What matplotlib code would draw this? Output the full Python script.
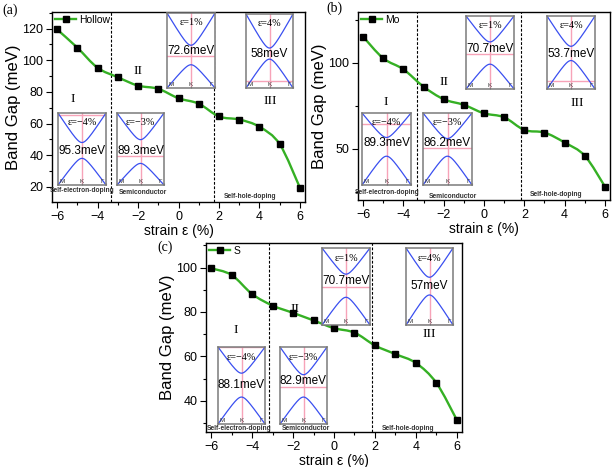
import numpy as np
import matplotlib
matplotlib.use("Agg")
import matplotlib.pyplot as plt
from matplotlib.path import Path
from matplotlib.patches import PathPatch
from matplotlib.lines import Line2D
from matplotlib.ticker import MultipleLocator, AutoMinorLocator

plt.rcParams['font.family'] = ['Liberation Sans', 'DejaVu Sans']
SERIF = ['Liberation Serif', 'DejaVu Serif']

W, H = 614, 467

# ========== data ==========
strain = [-6, -5, -4, -3, -2, -1, 0, 1, 2, 3, 4, 5, 6]
gap_hollow = [119.5, 108, 95.3, 89.3, 84, 82, 76, 72.6, 64.5, 62.6, 58, 47, 19.5]
gap_mo = [115.3, 102.7, 96.3, 86.2, 78.9, 75.6, 70.7, 68.4, 61, 59.5, 53.7, 46, 28.1]
gap_s = [99.7, 96.7, 88.1, 82.9, 79.6, 76.2, 72.7, 70.7, 64.9, 61, 57, 48, 31.3]

region_edges_a = [-3.35, 1.75]
region_edges_b = [-3.33, 1.82]
region_edges_c = [-3.18, 1.86]

inset_labels = ['ε=−4%', 'ε=−3%', 'ε=1%', 'ε=4%']
inset_gap_a = ['95.3meV', '89.3meV', '72.6meV', '58meV']
inset_gap_b = ['89.3meV', '86.2meV', '70.7meV', '53.7meV']
inset_gap_c = ['88.1meV', '82.9meV', '70.7meV', '57meV']

# band edges / Fermi level in the inset (fraction of inset height)
cb_min_a = [0.59, 0.63, 0.57, 0.54]
vb_max_a = [0.37, 0.30, 0.31, 0.39]
fermi_a = [0.97, 0.40, 0.43, 0.10]
cb_min_b = [0.66, 0.645, 0.645, 0.585]
vb_max_b = [0.40, 0.40, 0.34, 0.39]
fermi_b = [0.85, 0.52, 0.48, 0.115]
cb_min_c = [0.66, 0.64, 0.66, 0.62]
vb_max_c = [0.35, 0.35, 0.36, 0.39]
fermi_c = [1.0, 0.48, 0.50, 0.0]

GREEN = '#35b024'
BLUE = '#3a4ff0'
PINK = '#f7a3b8'


def fig_box(x0, x1, yt, yb):
    return [x0 / W, 1 - yb / H, (x1 - x0) / W, (yb - yt) / H]


def fig_text(x, y, s, **kw):
    fig.text(x / W, 1 - y / H, s, **kw)


def smooth_path(xs, ys):
    # Catmull-Rom through the points, drawn as cubic Bezier segments
    pts = np.column_stack([xs, ys]).astype(float)
    p = np.vstack([pts[0], pts, pts[-1]])
    verts = [pts[0]]
    codes = [Path.MOVETO]
    for i in range(1, len(p) - 2):
        c1 = p[i] + (p[i + 1] - p[i - 1]) / 6
        c2 = p[i + 1] - (p[i + 2] - p[i]) / 6
        verts += [c1, c2, p[i + 1]]
        codes += [Path.CURVE4] * 3
    return Path(verts, codes)


def main_panel(box, gaps, name, edges, ylim, ymajor):
    ax = fig.add_axes(fig_box(*box))
    ax.add_patch(PathPatch(smooth_path(strain, gaps), fc='none', ec=GREEN, lw=1.7, zorder=2))
    ax.plot(strain, gaps, 's', color='k', ms=4.3, zorder=3)
    for e in edges:
        ax.axvline(e, color='k', ls=(0, (2.5, 1.5)), lw=0.8, zorder=1)
    ax.set_xlim(-6.25, 6.25)
    ax.set_ylim(*ylim)
    ax.xaxis.set_major_locator(MultipleLocator(2))
    ax.xaxis.set_minor_locator(MultipleLocator(1))
    ax.yaxis.set_major_locator(MultipleLocator(ymajor))
    ax.yaxis.set_minor_locator(AutoMinorLocator(2))
    ax.tick_params(which='both', direction='out', labelsize=9, width=0.8, pad=2.2)
    ax.tick_params(which='major', length=4)
    ax.tick_params(which='minor', length=2.2)
    for sp in ax.spines.values():
        sp.set_linewidth(1.0)
    ax.set_xlabel('strain ε (%)', fontsize=10, labelpad=1)
    ax.set_ylabel('Band Gap (meV)', fontsize=12, labelpad=1)
    h = Line2D([], [], color=GREEN, lw=1.7, marker='s', mfc='k', mec='k', ms=4.3)
    ax.legend([h], [name], loc='upper left', frameon=False, fontsize=7.5,
              handlelength=2.0, handletextpad=0.3, borderaxespad=0.1, borderpad=0.2)
    return ax


def band_inset(box, label, value, cb, vb, ef, ty):
    ax = fig.add_axes(fig_box(*box))
    ax.set_facecolor('white')
    k = np.linspace(-1, 1, 201)
    w = 0.22
    shape = (np.sqrt(w ** 2 + k ** 2) - w) / (np.sqrt(w ** 2 + 1) - w)
    ax.axvline(0, color=PINK, lw=1.0, zorder=1)
    ax.axhline(ef, color=PINK, lw=1.0, zorder=1)
    ax.plot(k, cb + (1 - cb) * shape, color=BLUE, lw=0.9, zorder=2)
    ax.plot(k, vb - vb * shape, color=BLUE, lw=0.9, zorder=2)
    ax.set_xlim(-1, 1)
    ax.set_ylim(0, 1)
    ax.set_yticks([])
    ax.set_xticks([-1, 0, 1])
    ax.set_xticklabels([])
    ax.tick_params(axis='x', direction='in', length=1.5, color='#777777')
    # high-symmetry point labels sit inside the frame, on the bottom edge
    for kx, s, ha in [(-0.93, 'M', 'left'), (0, 'K', 'center'), (0.93, 'Γ', 'right')]:
        ax.text(kx, 0.015, s, ha=ha, va='bottom', fontsize=4.5, color='#333333', zorder=3)
    for sp in ax.spines.values():
        sp.set_color('#7a7a7a')
        sp.set_linewidth(1.1)
    ax.text(0, 0.87, label, ha='center', va='center', fontsize=7.3, family=SERIF, zorder=3)
    ax.text(0, ty, value, ha='center', va='center', fontsize=8.5, zorder=3)


fig = plt.figure(figsize=(W / 100, H / 100), dpi=100)

# ========== (a) Hollow ==========
main_panel((52, 305, 12, 202), gap_hollow, 'Hollow', region_edges_a, (10.5, 130.5), 20)
boxes_a = [(58, 106, 113, 185), (117, 164, 113, 185), (167, 215, 13, 88), (246, 293, 14, 88)]
text_y_a = [0.47, 0.47, 0.49, 0.46]
for i in range(4):
    band_inset(boxes_a[i], inset_labels[i], inset_gap_a[i], cb_min_a[i], vb_max_a[i], fermi_a[i], text_y_a[i])

# ========== (b) Mo ==========
main_panel((358, 610, 12, 200), gap_mo, 'Mo', region_edges_b, (20.3, 129.6), 50)
boxes_b = [(362, 411, 113, 185), (423, 472, 113, 185), (466, 514, 16, 89), (547, 595, 16, 89)]
text_y_b = [0.58, 0.58, 0.55, 0.48]
for i in range(4):
    band_inset(boxes_b[i], inset_labels[i], inset_gap_b[i], cb_min_b[i], vb_max_b[i], fermi_b[i], text_y_b[i])

# ========== (c) S ==========
main_panel((206, 462, 243, 432), gap_s, 'S', region_edges_c, (25.9, 111.1), 20)
boxes_c = [(218, 265, 347, 424), (280, 327, 347, 424), (322, 370, 248, 325), (406, 453, 248, 325)]
text_y_c = [0.50, 0.56, 0.57, 0.51]
for i in range(4):
    band_inset(boxes_c[i], inset_labels[i], inset_gap_c[i], cb_min_c[i], vb_max_c[i], fermi_c[i], text_y_c[i])

# ========== annotations ==========
small = dict(fontsize=4.8, fontweight='bold', color='#333333', ha='center', va='center')
for x, y, s in [(82, 191, 'Self-electron-doping'), (143, 192, 'Semiconductor'), (250, 196, 'Self-hole-doping'),
                (387, 192, 'Self-electron-doping'), (453, 196, 'Semiconductor'), (556, 194, 'Self-hole-doping'),
                (239, 429, 'Self-electron-doping'), (306, 429, 'Semiconductor'), (408, 429, 'Self-hole-doping')]:
    fig_text(x, y, s, **small)

roman = dict(fontsize=9.5, family=SERIF, ha='center', va='center')
for x, y, s in [(73, 99, 'I'), (138, 71, 'II'), (270, 101, 'III'),
                (386, 102, 'I'), (444, 82, 'II'), (577, 103, 'III'),
                (236, 330, 'I'), (295, 309, 'II'), (429, 334, 'III')]:
    fig_text(x, y, s, **roman)

for x, y, s in [(2, 10, '(a)'), (326, 8, '(b)'), (157, 247, '(c)')]:
    fig_text(x, y, s, fontsize=10, family=SERIF, ha='left', va='center')

fig.savefig('out.png', dpi=100)
